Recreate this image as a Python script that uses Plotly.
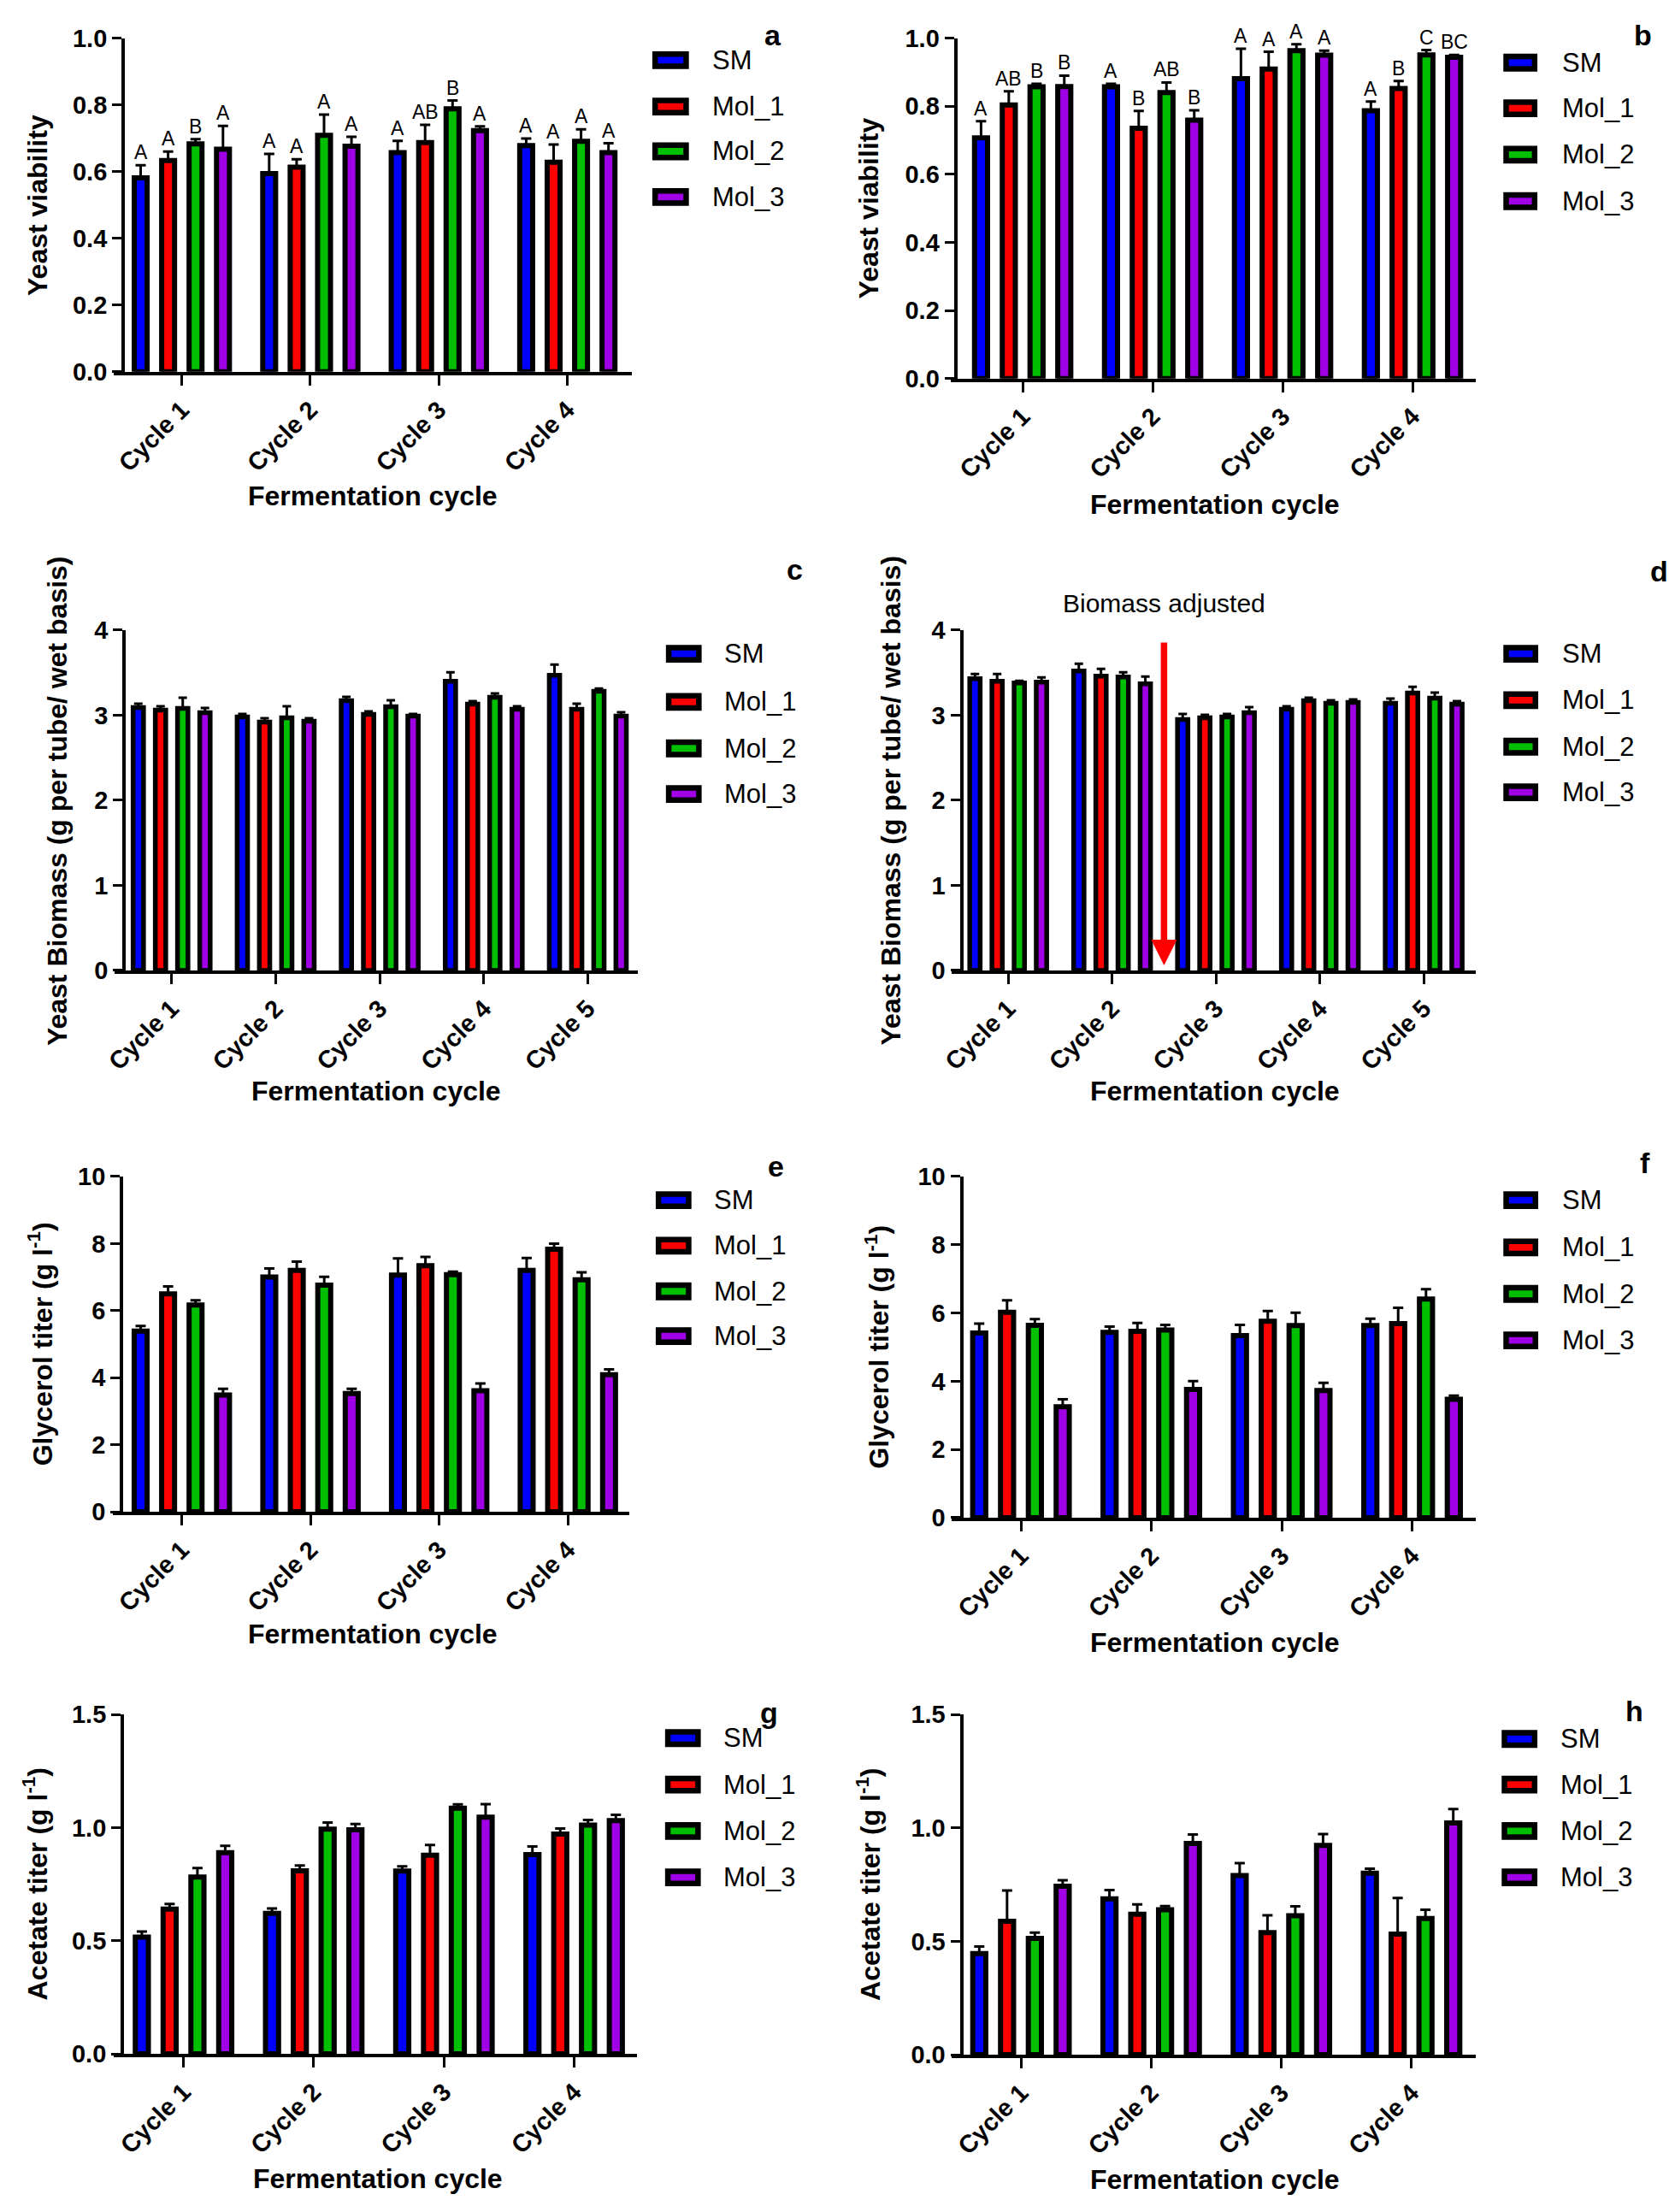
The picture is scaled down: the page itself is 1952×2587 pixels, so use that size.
import plotly.graph_objects as go

W, H = 1952, 2587

series = ["SM", "Mol_1", "Mol_2", "Mol_3"]
colors = ["#0000FF", "#FF0000", "#00BF00", "#A000E6"]
cycles4 = ["Cycle 1", "Cycle 2", "Cycle 3", "Cycle 4"]
cycles5 = ["Cycle 1", "Cycle 2", "Cycle 3", "Cycle 4", "Cycle 5"]

# ---- a : yeast viability (rows = SM, Mol_1, Mol_2, Mol_3) ----
a_mean = [[0.581, 0.594, 0.657, 0.678],
          [0.633, 0.613, 0.687, 0.628],
          [0.683, 0.709, 0.788, 0.691],
          [0.667, 0.676, 0.723, 0.657]]
a_err = [[0.038, 0.059, 0.035, 0.021],
         [0.027, 0.024, 0.053, 0.053],
         [0.014, 0.062, 0.025, 0.036],
         [0.070, 0.028, 0.013, 0.028]]
a_letters = [["A", "A", "A", "A"],
             ["A", "A", "AB", "A"],
             ["B", "A", "B", "A"],
             ["A", "A", "A", "A"]]

# ---- b : yeast viability ----
b_mean = [[0.707, 0.857, 0.881, 0.787],
          [0.804, 0.735, 0.909, 0.852],
          [0.857, 0.840, 0.963, 0.951],
          [0.858, 0.759, 0.950, 0.944]]
b_err = [[0.049, 0.009, 0.088, 0.027],
         [0.040, 0.051, 0.051, 0.022],
         [0.009, 0.030, 0.019, 0.014],
         [0.032, 0.029, 0.013, 0.007]]
b_letters = [["A", "A", "A", "A"],
             ["AB", "B", "A", "B"],
             ["B", "AB", "A", "C"],
             ["B", "B", "A", "BC"]]

# ---- c : yeast biomass ----
c_mean = [[3.09, 2.98, 3.17, 3.40, 3.47],
          [3.06, 2.92, 3.01, 3.13, 3.07],
          [3.08, 2.97, 3.10, 3.21, 3.28],
          [3.03, 2.93, 2.99, 3.07, 2.99]]
c_err = [[0.045, 0.035, 0.045, 0.105, 0.125],
         [0.045, 0.045, 0.035, 0.035, 0.065],
         [0.125, 0.135, 0.075, 0.045, 0.035],
         [0.055, 0.035, 0.025, 0.035, 0.045]]

# ---- d : yeast biomass (biomass adjusted after cycle 2) ----
d_mean = [[3.43, 3.52, 2.95, 3.07, 3.14],
          [3.40, 3.46, 2.97, 3.17, 3.26],
          [3.38, 3.45, 2.98, 3.14, 3.20],
          [3.39, 3.37, 3.03, 3.15, 3.13]]
d_err = [[0.055, 0.085, 0.065, 0.035, 0.055],
         [0.085, 0.085, 0.035, 0.035, 0.075],
         [0.025, 0.055, 0.035, 0.035, 0.065],
         [0.055, 0.085, 0.065, 0.035, 0.035]]
d_note = "Biomass adjusted"
d_arrow_x = 1.5
d_arrow_from = 3.87
d_arrow_to = 0.06

# ---- e : glycerol titer ----
e_mean = [[5.39, 7.00, 7.06, 7.20],
          [6.50, 7.20, 7.34, 7.83],
          [6.17, 6.76, 7.07, 6.92],
          [3.48, 3.53, 3.61, 4.09]]
e_err = [[0.15, 0.26, 0.50, 0.37],
         [0.22, 0.26, 0.26, 0.17],
         [0.14, 0.25, 0.09, 0.22],
         [0.19, 0.14, 0.22, 0.16]]

# ---- f : glycerol titer ----
f_mean = [[5.41, 5.43, 5.34, 5.63],
          [6.02, 5.46, 5.76, 5.69],
          [5.64, 5.50, 5.63, 6.41],
          [3.25, 3.76, 3.73, 3.47]]
f_err = [[0.28, 0.17, 0.31, 0.20],
         [0.35, 0.25, 0.30, 0.46],
         [0.18, 0.15, 0.38, 0.29],
         [0.22, 0.24, 0.22, 0.11]]

# ---- g : acetate titer ----
g_mean = [[0.516, 0.621, 0.808, 0.881],
          [0.640, 0.809, 0.878, 0.971],
          [0.782, 0.993, 1.086, 1.011],
          [0.889, 0.990, 1.046, 1.031]]
g_err = [[0.025, 0.022, 0.021, 0.036],
         [0.023, 0.024, 0.045, 0.025],
         [0.039, 0.029, 0.017, 0.023],
         [0.030, 0.026, 0.058, 0.025]]

# ---- h : acetate titer ----
h_mean = [[0.446, 0.687, 0.790, 0.800],
          [0.588, 0.619, 0.538, 0.532],
          [0.513, 0.639, 0.613, 0.601],
          [0.743, 0.931, 0.923, 1.022]]
h_err = [[0.031, 0.039, 0.055, 0.020],
         [0.136, 0.044, 0.077, 0.159],
         [0.025, 0.016, 0.041, 0.038],
         [0.026, 0.040, 0.050, 0.061]]

x_title = "Fermentation cycle"
t_viab = "Yeast viability"
t_biom = "Yeast Biomass (g per tube/ wet basis)"
t_glyc = "Glycerol titer (g l<sup>-1</sup>)"
t_acet = "Acetate titer (g l<sup>-1</sup>)"

FONT = "Liberation Sans, Arial, Helvetica, sans-serif"
BARGAP = 0.146
BARGROUPGAP = 0.53


def fx(p):
    return p / W


def fy(p):
    return 1 - p / H


panels = [
    dict(lab="a", cats=cycles4, mean=a_mean, err=a_err, letters=a_letters, ymax=1.0, dtick=0.2, fmt=".1f",
         ytitle=t_viab, xl=121, xr=731, ya=132, t0=201, sp=151.3, y0=424, yt=29,
         sx0=755, sx1=798, tx=823, rows=[55, 110, 163, 217], labpos=(897, 25), ytp=(31, 227), xtp=(426, 571),
         lw=6, ew=6),
    dict(lab="b", cats=cycles4, mean=b_mean, err=b_err, letters=b_letters, ymax=1.0, dtick=0.2, fmt=".1f",
         ytitle=t_viab, xl=1106, xr=1724, ya=1112, t0=1191, sp=153, y0=432, yt=29,
         sx0=1757, sx1=1797, tx=1824, rows=[58, 112, 167, 222], labpos=(1921, 25), ytp=(1010, 230), xtp=(1417, 581),
         lw=6, ew=6),
    dict(lab="c", cats=cycles5, mean=c_mean, err=c_err, letters=None, ymax=4, dtick=1, fmt="d",
         ytitle=t_biom, xl=122, xr=738, ya=133, t0=189, sp=122.5, y0=1133, yt=730,
         sx0=771, sx1=813, tx=838, rows=[758, 815, 870, 924], labpos=(923, 658), ytp=(55, 932), xtp=(430, 1276),
         lw=5.5, ew=5),
    dict(lab="d", cats=cycles5, mean=d_mean, err=d_err, letters=None, ymax=4, dtick=1, fmt="d",
         ytitle=t_biom, xl=1107, xr=1724, ya=1119, t0=1174, sp=122.3, y0=1133, yt=730,
         sx0=1757, sx1=1798, tx=1824, rows=[758, 813, 868, 922], labpos=(1940, 660), ytp=(1036, 932), xtp=(1417, 1276),
         lw=5.5, ew=5),
    dict(lab="e", cats=cycles4, mean=e_mean, err=e_err, letters=None, ymax=10, dtick=2, fmt="d",
         ytitle=t_glyc, xl=120, xr=728, ya=130, t0=201, sp=151.5, y0=1774, yt=1377,
         sx0=759, sx1=801, tx=826, rows=[1405, 1459, 1513, 1566], labpos=(901, 1365), ytp=(34, 1575), xtp=(426, 1919),
         lw=6, ew=6),
    dict(lab="f", cats=cycles4, mean=f_mean, err=f_err, letters=None, ymax=10, dtick=2, fmt="d",
         ytitle=t_glyc, xl=1107, xr=1724, ya=1119, t0=1189, sp=153.5, y0=1781, yt=1377,
         sx0=1757, sx1=1798, tx=1824, rows=[1405, 1461, 1516, 1571], labpos=(1924, 1361), ytp=(1020, 1579), xtp=(1417, 1929),
         lw=6, ew=6),
    dict(lab="g", cats=cycles4, mean=g_mean, err=g_err, letters=None, ymax=1.5, dtick=0.5, fmt=".1f",
         ytitle=t_acet, xl=121, xr=737, ya=131, t0=203, sp=153.3, y0=2416, yt=2014,
         sx0=770, sx1=812, tx=837, rows=[2042, 2097, 2152, 2207], labpos=(892, 2012), ytp=(28, 2215), xtp=(432, 2564),
         lw=6, ew=6),
    dict(lab="h", cats=cycles4, mean=h_mean, err=h_err, letters=None, ymax=1.5, dtick=0.5, fmt=".1f",
         ytitle=t_acet, xl=1107, xr=1724, ya=1119, t0=1189, sp=153.3, y0=2417, yt=2014,
         sx0=1755, sx1=1797, tx=1822, rows=[2043, 2097, 2152, 2207], labpos=(1911, 2010), ytp=(1009, 2215), xtp=(1417, 2565),
         lw=6, ew=6),
]

fig = go.Figure()
annotations = []
shapes = []
layout_axes = {}

for k, p in enumerate(panels, start=1):
    xn = "x" if k == 1 else f"x{k}"
    yn = "y" if k == 1 else f"y{k}"
    xkey = "xaxis" if k == 1 else f"xaxis{k}"
    ykey = "yaxis" if k == 1 else f"yaxis{k}"
    n = len(p["cats"])
    xs = list(range(n))
    for s in range(4):
        fig.add_trace(go.Bar(
            x=xs, y=p["mean"][s], name=series[s], showlegend=False,
            xaxis=xn, yaxis=yn,
            marker=dict(color=colors[s], line=dict(color="black", width=p["lw"])),
            error_y=dict(type="data", array=p["err"][s], arrayminus=[0] * n, symmetric=False,
                         color="black", thickness=3, width=p["ew"]),
        ))
        if p["letters"] is not None:
            slot = (1 - BARGAP) / 4
            for i in range(n):
                annotations.append(dict(
                    x=i + (s - 1.5) * slot, y=p["mean"][s][i] + p["err"][s][i],
                    xref=xn, yref=yn, text=p["letters"][s][i], showarrow=False,
                    xanchor="center", yanchor="bottom", yshift=0,
                    font=dict(family=FONT, size=23, color="black")))
    xr0 = (p["xl"] - p["t0"]) / p["sp"]
    xr1 = (p["xr"] - p["t0"]) / p["sp"]
    layout_axes[xkey] = dict(
        domain=[fx(p["xl"]), fx(p["xr"])], range=[xr0, xr1], anchor=yn,
        tickmode="array", tickvals=xs, ticktext=p["cats"], tickangle=-45,
        ticks="outside", ticklen=12, tickwidth=3, tickcolor="black",
        showline=True, linewidth=4, linecolor="black", showgrid=False, zeroline=False,
        tickfont=dict(family=FONT, size=29, color="black", weight="bold"), fixedrange=True)
    layout_axes[ykey] = dict(
        domain=[fy(p["y0"]), fy(p["yt"])], range=[0, p["ymax"]], anchor="free", position=fx(p["ya"]),
        tick0=0, dtick=p["dtick"], tickformat=p["fmt"],
        ticks="outside", ticklen=11, tickwidth=3, tickcolor="black",
        showline=True, linewidth=4, linecolor="black", showgrid=False, zeroline=False,
        tickfont=dict(family=FONT, size=29, color="black", weight="bold"), fixedrange=True)

    # axis titles
    annotations.append(dict(x=fx(p["xtp"][0]), y=fy(p["xtp"][1]), xref="paper", yref="paper",
                            text=f"<b>{x_title}</b>", showarrow=False, xanchor="center", yanchor="middle",
                            font=dict(family=FONT, size=32, color="black")))
    annotations.append(dict(x=fx(p["ytp"][0]), y=fy(p["ytp"][1]), xref="paper", yref="paper",
                            text=f"<b>{p['ytitle']}</b>", showarrow=False, textangle=-90,
                            xanchor="center", yanchor="middle",
                            font=dict(family=FONT, size=32, color="black")))
    # panel letter
    annotations.append(dict(x=fx(p["labpos"][0]), y=fy(p["labpos"][1]), xref="paper", yref="paper",
                            text=f"<b>{p['lab']}</b>", showarrow=False, xanchor="center", yanchor="middle",
                            font=dict(family=FONT, size=34, color="black")))
    # legend
    for s in range(4):
        r = p["rows"][s]
        shapes.append(dict(type="rect", xref="paper", yref="paper",
                           x0=fx(p["sx0"] + 3.25), x1=fx(p["sx1"] - 3.25),
                           y0=fy(r + 7.25), y1=fy(r - 7.25),
                           fillcolor=colors[s], line=dict(color="black", width=6.5)))
        annotations.append(dict(x=fx(p["tx"]), y=fy(r), xref="paper", yref="paper",
                                text=series[s], showarrow=False, xanchor="left", yanchor="middle",
                                font=dict(family=FONT, size=31, color="black")))

    if p["lab"] == "d":
        annotations.append(dict(x=d_arrow_x, y=fy(698), xref=xn, yref="paper", text=d_note,
                                showarrow=False, xanchor="center", yanchor="middle",
                                font=dict(family=FONT, size=30, color="black")))
        annotations.append(dict(x=d_arrow_x, y=d_arrow_to, xref=xn, yref=yn,
                                ax=d_arrow_x, ay=d_arrow_from, axref=xn, ayref=yn,
                                text="", showarrow=True, arrowhead=2, arrowsize=0.8,
                                arrowwidth=7.5, arrowcolor="#FF0000", standoff=0))

fig.update_layout(
    width=W, height=H, margin=dict(l=0, r=0, t=0, b=0),
    paper_bgcolor="white", plot_bgcolor="white",
    barmode="group", bargap=BARGAP, bargroupgap=BARGROUPGAP,
    showlegend=False, annotations=annotations, shapes=shapes,
    font=dict(family=FONT, color="black"),
    **layout_axes,
)

fig.write_html(
    "out.html",
    config={"displayModeBar": False},
    post_script="document.body.style.margin='0';",
)
